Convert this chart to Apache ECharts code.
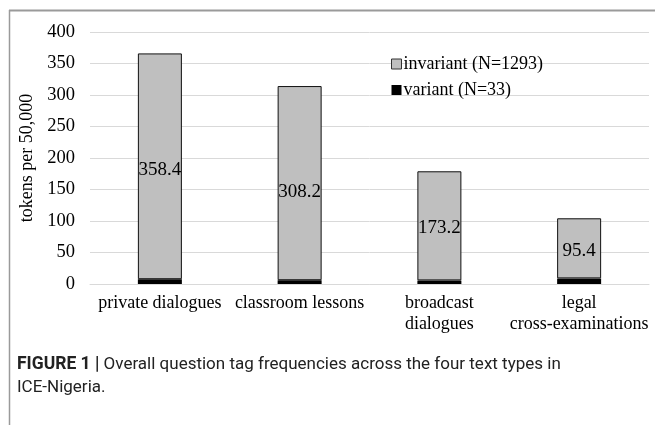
<!DOCTYPE html>
<html>
<head>
<meta charset="utf-8">
<script src="https://cdn.jsdelivr.net/npm/echarts@6/dist/echarts.min.js"></script>
<style>
  html, body { margin: 0; padding: 0; background: #fff; }
  #chart { width: 655px; height: 425px; }
</style>
</head>
<body>
<div id="chart"></div>
<script>
// Text types and frequencies (tokens per 50,000)
const categories = ['private dialogues', 'classroom lessons', 'broadcast\ndialogues', 'legal\ncross-examinations'];
const variantValues = [7.6, 6.0, 5.7, 8.9];
const invariantValues = [358.4, 308.2, 173.2, 95.4];
const yTicks = [0, 50, 100, 150, 200, 250, 300, 350, 400];

// vertical nudges for the value labels inside the grey segments
const labelNudge = [4, 9, 2, 3];

const serif = '"Liberation Serif", "DejaVu Serif", serif';
const chart = echarts.init(document.getElementById('chart'), null, { renderer: 'canvas' });

chart.setOption({
  animation: false,
  grid: { left: 90, right: 6, top: 32, bottom: 141 },
  legend: {
    orient: 'vertical',
    left: 386,
    top: 50,
    itemWidth: 10,
    itemHeight: 10,
    itemGap: 8,
    icon: 'rect',
    textStyle: { fontFamily: serif, fontSize: 18, color: '#000', padding: [0, 0, 0, -3] },
    data: [
      { name: 'invariant (N=1293)', itemStyle: { color: '#bfbfbf', borderColor: '#333', borderWidth: 1 } },
      { name: 'variant (N=33)', itemStyle: { color: '#000', borderWidth: 0 } }
    ]
  },
  xAxis: {
    type: 'category',
    data: categories,
    axisTick: { show: false },
    axisLine: { lineStyle: { color: '#d9d9d9', width: 1 } },
    axisLabel: { fontFamily: serif, fontSize: 18, color: '#000', margin: 9, lineHeight: 21, interval: 0 }
  },
  yAxis: {
    type: 'value',
    min: yTicks[0],
    max: yTicks[yTicks.length - 1],
    interval: 50,
    name: 'tokens per 50,000',
    nameLocation: 'middle',
    nameGap: 50,
    nameTextStyle: { fontFamily: serif, fontSize: 18, color: '#000' },
    axisLine: { show: false },
    axisTick: { show: false },
    axisLabel: { fontFamily: serif, fontSize: 18.5, color: '#000', margin: 15 },
    splitLine: { lineStyle: { color: '#d9d9d9', width: 1 } }
  },
  series: [
    {
      name: 'variant (N=33)',
      type: 'bar',
      stack: 'tags',
      barWidth: 44,
      data: variantValues,
      itemStyle: { color: '#000' }
    },
    {
      name: 'invariant (N=1293)',
      type: 'bar',
      stack: 'tags',
      barWidth: 44,
      data: invariantValues.map((v, i) => ({
        value: v,
        label: { offset: [0, labelNudge[i]] }
      })),
      itemStyle: { color: '#bfbfbf', borderColor: '#111', borderWidth: 1 },
      label: {
        show: true,
        position: 'inside',
        fontFamily: serif,
        fontSize: 19,
        color: '#000'
      }
    }
  ],
  graphic: [
    // frame lines at the top and left edge
    { type: 'line', shape: { x1: 9, y1: 10.5, x2: 655, y2: 10.5 }, style: { stroke: '#9a9a9a', lineWidth: 2 } },
    { type: 'line', shape: { x1: 9.5, y1: 10, x2: 9.5, y2: 425 }, style: { stroke: '#9a9a9a', lineWidth: 1.5 } },
    {
      type: 'text', left: 17, top: 353,
      style: {
        text: '{b|FIGURE 1 |} Overall question tag frequencies across the four text types in\nICE-Nigeria.',
        fontFamily: 'Roboto, sans-serif',
        fontSize: 17,
        lineHeight: 23,
        fill: '#222',
        rich: { b: { fontWeight: 'bold', fontFamily: 'Roboto, sans-serif', fontSize: 17.5, fill: '#222' } }
      }
    }
  ]
});
</script>
</body>
</html>
